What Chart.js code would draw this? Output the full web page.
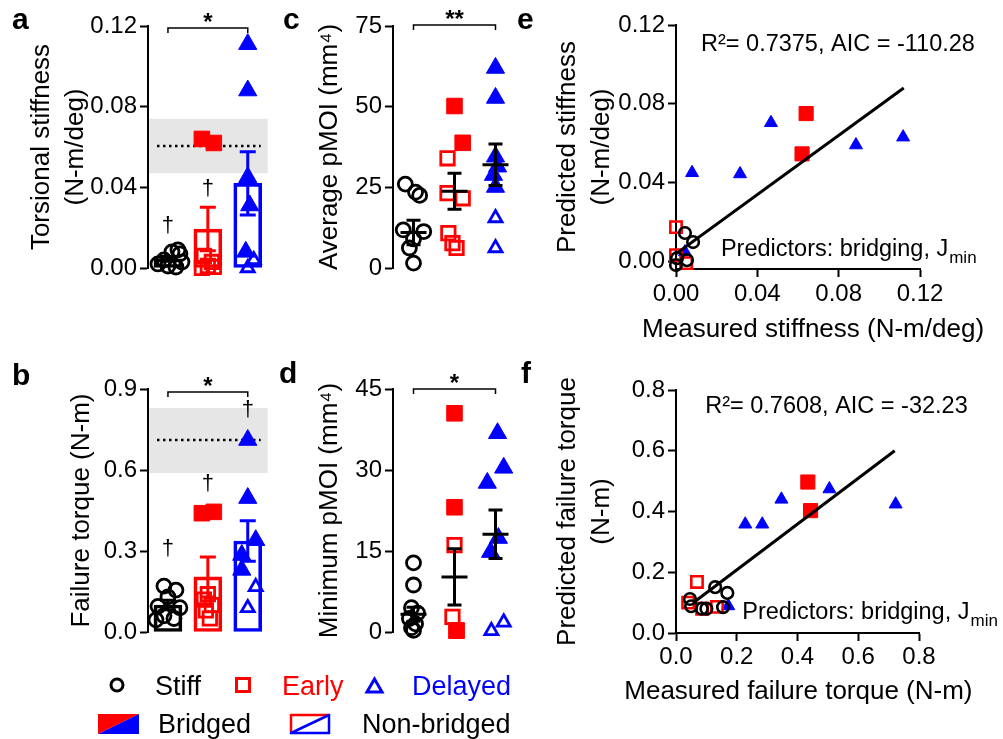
<!DOCTYPE html>
<html>
<head>
<meta charset="utf-8">
<script src="https://cdn.jsdelivr.net/npm/chart.js@4.4.1/dist/chart.umd.min.js"></script>
<style>
body { margin: 0; background: #fff; }
#fig { position: relative; width: 1003px; height: 739px; overflow: hidden; font-family: "Liberation Sans", Arial, sans-serif; }
#fig canvas { position: absolute; }
#overlay { position: absolute; left: 0; top: 0; pointer-events: none; }
</style>
</head>
<body>
<div id="fig">
  <canvas id="pa" width="280" height="290" style="left:0;top:0"></canvas>
  <canvas id="pc" width="250" height="290" style="left:280px;top:0"></canvas>
  <canvas id="pb" width="280" height="290" style="left:0;top:360px"></canvas>
  <canvas id="pd" width="250" height="290" style="left:280px;top:360px"></canvas>
  <canvas id="pe" width="473" height="345" style="left:530px;top:0"></canvas>
  <canvas id="pf" width="473" height="360" style="left:530px;top:360px"></canvas>
  <svg id="overlay" width="1003" height="739" font-family="Liberation Sans, Arial, sans-serif">
    <g font-size="30" font-weight="bold" fill="#000">
      <text x="12" y="29">a</text>
      <text x="283" y="29">c</text>
      <text x="517" y="29">e</text>
      <text x="12" y="385">b</text>
      <text x="279" y="383">d</text>
      <text x="521" y="383">f</text>
    </g>
    <!-- legend -->
    <circle cx="117" cy="685" r="6" fill="none" stroke="#000" stroke-width="3"/>
    <text x="155" y="695" font-size="27" fill="#000">Stiff</text>
    <rect x="236.5" y="678.5" width="13" height="13" fill="none" stroke="#ff0000" stroke-width="3"/>
    <text x="282" y="695" font-size="27" fill="#ff0000">Early</text>
    <polygon points="374.5,679 382,692 367,692" fill="none" stroke="#0000ff" stroke-width="3"/>
    <text x="412" y="695" font-size="27" fill="#0000ff">Delayed</text>
    <polygon points="98,714 139,714 98,734" fill="#ff0000"/>
    <polygon points="139,714 139,734 98,734" fill="#0000ff"/>
    <text x="158" y="733" font-size="27" fill="#000">Bridged</text>
    <line x1="291" y1="715" x2="330" y2="715" stroke="#ff0000" stroke-width="2.5"/>
    <line x1="291" y1="714" x2="291" y2="734" stroke="#ff0000" stroke-width="2.5"/>
    <line x1="329" y1="714" x2="329" y2="734" stroke="#0000ff" stroke-width="2.5"/>
    <line x1="290" y1="733" x2="330" y2="733" stroke="#0000ff" stroke-width="2.5"/>
    <line x1="291" y1="733" x2="329" y2="715" stroke="#0000ff" stroke-width="2.5"/>
    <text x="362" y="733" font-size="27" fill="#000">Non-bridged</text>
  </svg>
</div>
<script>
// Colours / fonts
const RED = '#ff0000';
const BLUE = '#0000ff';
const BLACK = '#000000';
const NONE = 'rgba(0,0,0,0)';
const FONT = '"Liberation Sans", Arial, Helvetica, sans-serif';
const GROUP_COLORS = [BLACK, RED, BLUE];

// Categories (x index 0,1,2)
const groups = ['Stiff', 'Early', 'Delayed'];

// ---- Panel a: torsional stiffness (N-m/deg)
const ticksA = [0, 0.04, 0.08, 0.12];
const stiffA = [0.002, 0.004, 0.008, 0.009, 0.007, 0.001, 0.0005, 0.003];
const stiffAdx = [-0.25, -0.1, 0.1, 0.25, 0.3, 0.0, 0.2, 0.35];
const earlyFillA = [0.064, 0.062];
const earlyFillAdx = [-0.15, 0.15];
const earlyOpenA = [0.006, 0.003, 0.001, 0.0, 0.0005];
const earlyOpenAdx = [-0.1, 0.1, 0, -0.15, 0.15];
const delFillA = [0.111, 0.088, 0.045, 0.031, 0.008];
const delFillAdx = [0, 0, 0, 0.05, -0.05];
const delOpenA = [0.004, 0.0];
const delOpenAdx = [0.15, 0];
const meanA = [0.0045, 0.0193, 0.042];
const semA = [0.0012, 0.0108, 0.0157];
const bandA = [0.047, 0.074];
const refA = 0.0605;
const daggersA = [[0, 0.0208], [1, 0.039]];
const bracketA = [0, 2, 0.119, '*'];

// ---- Panel b: failure torque (N-m)
const ticksB = [0, 0.3, 0.6, 0.9];
const stiffB = [0.17, 0.155, 0.13, 0.095, 0.09, 0.06, 0.05, 0.045];
const stiffBdx = [-0.1, 0.2, 0.0, -0.25, 0.3, -0.1, 0.15, -0.3];
const earlyFillB = [0.44, 0.445];
const earlyFillBdx = [-0.15, 0.15];
const earlyOpenB = [0.14, 0.12, 0.10, 0.08, 0.05];
const earlyOpenBdx = [0.0, -0.1, 0.1, -0.05, 0.05];
const delFillB = [0.711, 0.496, 0.34, 0.285, 0.23];
const delFillBdx = [0, 0, 0.2, -0.15, -0.15];
const delOpenB = [0.167, 0.089];
const delOpenBdx = [0.2, 0];
const meanB = [0.1, 0.204, 0.337];
const semB = [0.018, 0.074, 0.075];
const bandB = [0.589, 0.83];
const refB = 0.711;
const daggersB = [[0, 0.307], [1, 0.548], [2, 0.822]];
const bracketB = [0, 2, 0.889, '*'];

// ---- Panel c: average pMOI (mm^4)
const ticksC = [0, 25, 50, 75];
const stiffC = [26, 23.5, 22.5, 11.8, 11.3, 9, 6.2, 1.5];
const stiffCdx = [-0.2, 0.05, 0.15, -0.25, 0.25, 0, -0.1, 0];
const earlyFillC = [50.2, 38.8];
const earlyFillCdx = [0, 0.2];
const earlyOpenC = [34, 23.2, 21.6, 10.8, 7.7, 6.2];
const earlyOpenCdx = [-0.17, -0.17, 0.2, -0.15, -0.05, 0.05];
const delFillC = [62, 52.7, 34.5, 31.4, 28.8, 25.1];
const delFillCdx = [0, 0, 0, 0.05, -0.05, 0];
const delOpenC = [15.5, 6.2];
const delOpenCdx = [0, 0];
const meanC = [11, 23.8, 32];
const semC = [3.8, 5.6, 6.4];
const bracketC = [0, 2, 75.3, '**'];

// ---- Panel d: minimum pMOI (mm^4)
const ticksD = [0, 15, 30, 45];
const stiffD = [12.8, 8.7, 4.5, 3.5, 2.5, 1.5, 0.8, 0.3];
const stiffDdx = [0, 0, -0.05, 0.1, -0.1, 0.05, -0.05, 0];
const earlyFillD = [40.5, 23.1, 0.3];
const earlyFillDdx = [0, 0, 0.05];
const earlyOpenD = [16.1, 2.8, 0.2];
const earlyOpenDdx = [0, -0.05, 0.05];
const delFillD = [36.8, 30.4, 27.6, 17.4, 14.8];
const delFillDdx = [0.05, 0.2, -0.2, 0.07, -0.12];
const delOpenD = [0.2, 1.8];
const delOpenDdx = [-0.1, 0.2];
const meanD = [3.3, 10.2, 18.1];
const semD = [1.3, 5.2, 4.5];
const bracketD = [0, 2, 45, '*'];

// ---- Panel e: measured vs predicted stiffness [measured, predicted]
const ticksE = [0, 0.04, 0.08, 0.12];
const stiffE = [[0.0044, 0.0143], [0.0084, 0.0097], [0.0005, 0.0015], [0.0, -0.002], [0.0054, 0.0005]];
const earlyOpenE = [[0.0, 0.0173], [0.0, 0.003], [0.005, -0.001]];
const earlyFillE = [[0.064, 0.075], [0.062, 0.0545]];
const delFillE = [[0.0079, 0.0449], [0.0315, 0.0443], [0.0467, 0.0703], [0.0885, 0.059], [0.1117, 0.063], [0.0044, 0.0046]];
const fitE = [[0, 0.0037], [0.112, 0.088]];

// ---- Panel f: measured vs predicted failure torque
const ticksF = [0, 0.2, 0.4, 0.6, 0.8];
const stiffF = [[0.129, 0.151], [0.169, 0.132], [0.046, 0.112], [0.05, 0.088], [0.085, 0.08], [0.1, 0.08], [0.155, 0.085]];
const earlyOpenF = [[0.069, 0.168], [0.04, 0.1], [0.135, 0.086], [0.086, 0.08]];
const earlyFillF = [[0.434, 0.497], [0.443, 0.403]];
const delFillF = [[0.228, 0.358], [0.284, 0.358], [0.347, 0.44], [0.505, 0.474], [0.723, 0.424], [0.172, 0.089]];
const fitF = [[0.06, 0.102], [0.72, 0.6]];

// Marker styles
const dotStyles = {
    stiff: { pointStyle: 'circle', pointRadius: 7, pointBorderWidth: 2.8, pointBorderColor: BLACK, pointBackgroundColor: NONE },
    earlyFill: { pointStyle: 'rect', pointRadius: 11, pointBorderWidth: 1, pointBorderColor: RED, pointBackgroundColor: RED },
    earlyOpen: { pointStyle: 'rect', pointRadius: 9.5, pointBorderWidth: 2.8, pointBorderColor: RED, pointBackgroundColor: NONE },
    delFill: { pointStyle: 'triangle', pointRadius: 10.5, pointBorderWidth: 1, pointBorderColor: BLUE, pointBackgroundColor: BLUE },
    delOpen: { pointStyle: 'triangle', pointRadius: 7.5, pointBorderWidth: 2.8, pointBorderColor: BLUE, pointBackgroundColor: NONE }
};
const scatterStyles = {
    stiff: { pointStyle: 'circle', pointRadius: 5.8, pointBorderWidth: 2.6, pointBorderColor: BLACK, pointBackgroundColor: NONE },
    earlyFill: { pointStyle: 'rect', pointRadius: 10, pointBorderWidth: 1, pointBorderColor: RED, pointBackgroundColor: RED },
    earlyOpen: { pointStyle: 'rect', pointRadius: 8, pointBorderWidth: 2.6, pointBorderColor: RED, pointBackgroundColor: NONE },
    delFill: { pointStyle: 'triangle', pointRadius: 7.5, pointBorderWidth: 1, pointBorderColor: BLUE, pointBackgroundColor: BLUE }
};

// Helpers
function jittered(vals, dx, cat, style) {
    return Object.assign({
        data: vals.map((v, i) => ({ x: cat + dx[i], y: v })),
        clip: false,
        order: 1
    }, style);
}

function pairs(list, style) {
    return Object.assign({
        data: list.map(p => ({ x: p[0], y: p[1] })),
        clip: false,
        order: 1
    }, style);
}

function yAxis(ticks, dec, title, titlePad, width, min, max) {
    return {
        type: 'linear',
        min: min,
        max: max,
        afterBuildTicks: s => { s.ticks = ticks.map(v => ({ value: v })); },
        afterFit: s => { s.width = width; },
        ticks: { callback: v => Number(v).toFixed(dec), color: BLACK, font: { family: FONT, size: 24 }, padding: 3 },
        grid: { drawOnChartArea: false, tickLength: 8, tickWidth: 2, tickColor: BLACK },
        border: { color: BLACK, width: 2 },
        title: { display: true, text: title, color: BLACK, font: { family: FONT, size: 26, lineHeight: 1.3 }, padding: { top: titlePad, bottom: 0 } }
    };
}

function xAxis(ticks, dec, min, max, height, pad) {
    return {
        type: 'linear',
        min: min,
        max: max,
        afterBuildTicks: s => { s.ticks = ticks.map(v => ({ value: v })); },
        afterFit: s => { s.height = height; },
        ticks: { callback: v => Number(v).toFixed(dec), color: BLACK, font: { family: FONT, size: 24 }, padding: pad, maxRotation: 0 },
        grid: { drawOnChartArea: false, tickLength: 8, tickWidth: 2, tickColor: BLACK },
        border: { color: BLACK, width: 2 }
    };
}

// Decorations: reference band, error bars, brackets, daggers, notes
function decorPlugin(cfg) {
    return {
        id: 'decor',
        beforeDatasetsDraw(chart) {
            const { ctx, chartArea: area, scales: { y } } = chart;
            if (!cfg.band) return;
            ctx.save();
            const top = y.getPixelForValue(cfg.band[1]);
            const bottom = y.getPixelForValue(cfg.band[0]);
            ctx.fillStyle = '#e6e6e6';
            ctx.fillRect(area.left + 1, top, area.right - area.left - 1, bottom - top);
            const ry = y.getPixelForValue(cfg.ref);
            ctx.strokeStyle = BLACK;
            ctx.lineWidth = 2.5;
            ctx.setLineDash([2.5, 3.5]);
            ctx.beginPath();
            ctx.moveTo(area.left + 9, ry);
            ctx.lineTo(area.right - 7, ry);
            ctx.stroke();
            ctx.restore();
        },
        afterDatasetsDraw(chart) {
            const { ctx, scales: { x, y } } = chart;
            ctx.save();
            if (cfg.mean) {
                cfg.mean.forEach((m, i) => {
                    const px = x.getPixelForValue(i);
                    const hi = y.getPixelForValue(m + cfg.sem[i]);
                    const lo = y.getPixelForValue(Math.max(m - cfg.sem[i], 0));
                    const mid = y.getPixelForValue(m);
                    const cap = cfg.bars ? 8 : 7;
                    ctx.strokeStyle = cfg.bars ? GROUP_COLORS[i] : BLACK;
                    ctx.lineWidth = 3;
                    ctx.beginPath();
                    ctx.moveTo(px, hi); ctx.lineTo(px, lo);
                    ctx.moveTo(px - cap, hi); ctx.lineTo(px + cap, hi);
                    ctx.moveTo(px - cap, lo); ctx.lineTo(px + cap, lo);
                    if (!cfg.bars) { ctx.moveTo(px - 13, mid); ctx.lineTo(px + 13, mid); }
                    ctx.stroke();
                });
            }
            if (cfg.bracket) {
                const [c0, c1, v, label] = cfg.bracket;
                const x0 = x.getPixelForValue(c0), x1 = x.getPixelForValue(c1), by = y.getPixelForValue(v);
                ctx.strokeStyle = BLACK;
                ctx.lineWidth = 1.5;
                ctx.beginPath();
                ctx.moveTo(x0, by + 5); ctx.lineTo(x0, by); ctx.lineTo(x1, by); ctx.lineTo(x1, by + 5);
                ctx.stroke();
                ctx.fillStyle = BLACK;
                ctx.font = 'bold 24px ' + FONT;
                ctx.textAlign = 'center';
                ctx.textBaseline = 'alphabetic';
                ctx.fillText(label, (x0 + x1) / 2, by + 2);
            }
            if (cfg.daggers) {
                ctx.fillStyle = BLACK;
                ctx.font = '22px ' + FONT;
                ctx.textAlign = 'center';
                ctx.textBaseline = 'middle';
                cfg.daggers.forEach(d => ctx.fillText('\u2020', x.getPixelForValue(d[0]), y.getPixelForValue(d[1])));
            }
            (cfg.notes || []).forEach(n => {
                ctx.fillStyle = BLACK;
                ctx.font = n.size + 'px ' + FONT;
                ctx.textAlign = n.align || 'left';
                ctx.textBaseline = 'alphabetic';
                const px = x.getPixelForValue(n.x), py = y.getPixelForValue(n.y);
                ctx.fillText(n.text, px, py);
                if (n.sub) {
                    const w = ctx.measureText(n.text).width;
                    ctx.font = '17px ' + FONT;
                    ctx.fillText(n.sub, px + w + 1, py + 7);
                }
            });
            ctx.restore();
        }
    };
}

const baseOptions = {
    responsive: false,
    animation: false,
    events: [],
    plugins: { legend: { display: false }, tooltip: { enabled: false } }
};

// Dot plots a-d
function dotPanel(id, groupsData, cfg) {
    const datasets = [
        jittered(groupsData[0][0], groupsData[0][1], 0, dotStyles.stiff),
        jittered(groupsData[1][0], groupsData[1][1], 1, dotStyles.earlyOpen),
        jittered(groupsData[2][0], groupsData[2][1], 1, dotStyles.earlyFill),
        jittered(groupsData[3][0], groupsData[3][1], 2, dotStyles.delOpen),
        jittered(groupsData[4][0], groupsData[4][1], 2, dotStyles.delFill)
    ];
    if (cfg.bars) {
        datasets.push({
            type: 'bar',
            data: cfg.mean.map((m, i) => ({ x: i, y: m })),
            backgroundColor: NONE,
            borderColor: GROUP_COLORS,
            borderWidth: 3,
            borderSkipped: false,
            barThickness: 28,
            order: 10
        });
    }
    new Chart(document.getElementById(id), {
        type: 'scatter',
        data: { datasets },
        options: Object.assign({}, baseOptions, {
            layout: { padding: cfg.padding },
            scales: {
                x: { type: 'linear', display: false, min: -0.5, max: 2.5, offset: false },
                y: cfg.y
            }
        }),
        plugins: [decorPlugin(cfg)]
    });
}

dotPanel('pa',
    [[stiffA, stiffAdx], [earlyOpenA, earlyOpenAdx], [earlyFillA, earlyFillAdx], [delOpenA, delOpenAdx], [delFillA, delFillAdx]],
    {
        bars: true, mean: meanA, sem: semA, band: bandA, ref: refA, daggers: daggersA, bracket: bracketA,
        padding: { left: 0, right: 10, top: 26, bottom: 22 },
        y: yAxis(ticksA, 2, ['Torsional stiffness', '(N-m/deg)'], 25, 148, 0, 0.12)
    });

dotPanel('pb',
    [[stiffB, stiffBdx], [earlyOpenB, earlyOpenBdx], [earlyFillB, earlyFillBdx], [delOpenB, delOpenBdx], [delFillB, delFillBdx]],
    {
        bars: true, mean: meanB, sem: semB, band: bandB, ref: refB, daggers: daggersB, bracket: bracketB,
        padding: { left: 0, right: 10, top: 29, bottom: 18 },
        y: yAxis(ticksB, 1, 'Failure torque (N-m)', 65, 148, 0, 0.9)
    });

dotPanel('pc',
    [[stiffC, stiffCdx], [earlyOpenC, earlyOpenCdx], [earlyFillC, earlyFillCdx], [delOpenC, delOpenCdx], [delFillC, delFillCdx]],
    {
        bars: false, mean: meanC, sem: semC, bracket: bracketC,
        padding: { left: 0, right: 14, top: 26, bottom: 22 },
        y: yAxis(ticksC, 0, 'Average pMOI (mm\u2074)', 33, 113, 0, 75)
    });

dotPanel('pd',
    [[stiffD, stiffDdx], [earlyOpenD, earlyOpenDdx], [earlyFillD, earlyFillDdx], [delOpenD, delOpenDdx], [delFillD, delFillDdx]],
    {
        bars: false, mean: meanD, sem: semD, bracket: bracketD,
        padding: { left: 0, right: 14, top: 29, bottom: 18 },
        y: yAxis(ticksD, 0, 'Minimum pMOI (mm\u2074)', 33, 113, 0, 45)
    });

// Scatter panels e-f
function scatterPanel(id, sets, fit, cfg) {
    const datasets = [
        pairs(sets[0], scatterStyles.stiff),
        pairs(sets[1], scatterStyles.earlyOpen),
        pairs(sets[2], scatterStyles.earlyFill),
        pairs(sets[3], scatterStyles.delFill),
        {
            data: fit.map(p => ({ x: p[0], y: p[1] })),
            showLine: true,
            borderColor: BLACK,
            borderWidth: 3,
            pointRadius: 0,
            order: 0
        }
    ];
    new Chart(document.getElementById(id), {
        type: 'scatter',
        data: { datasets },
        options: Object.assign({}, baseOptions, {
            layout: { padding: cfg.padding },
            scales: { x: cfg.x, y: cfg.y }
        }),
        plugins: [decorPlugin(cfg)]
    });
}

scatterPanel('pe', [stiffE, earlyOpenE, earlyFillE, delFillE], fitE, {
    padding: { left: 0, right: 83, top: 25, bottom: 0 },
    x: xAxis(ticksE, 2, 0, 0.12, 76, 3),
    y: yAxis(ticksE, 2, ['Predicted stiffness', '(N-m/deg)'], 21, 146, -0.004, 0.12),
    notes: [
        { text: 'R\u00b2= 0.7375, AIC = -110.28', x: 0.0123, y: 0.107, size: 23.5 },
        { text: 'Predictors: bridging, J', sub: 'min', x: 0.0221, y: 0.0025, size: 23.5 },
        { text: 'Measured stiffness (N-m/deg)', x: 0.0674, y: -0.0386, size: 26, align: 'center' }
    ]
});

scatterPanel('pf', [stiffF, earlyOpenF, earlyFillF, delFillF], fitF, {
    padding: { left: 0, right: 84, top: 30, bottom: 0 },
    x: xAxis(ticksF, 1, 0, 0.8, 87, 2),
    y: yAxis(ticksF, 1, ['Predicted failure torque', '(N-m)'], 21, 146, 0, 0.8),
    notes: [
        { text: 'R\u00b2= 0.7608, AIC = -32.23', x: 0.096, y: 0.724, size: 23.5 },
        { text: 'Predictors: bridging, J', sub: 'min', x: 0.218, y: 0.046, size: 23.5 },
        { text: 'Measured failure torque (N-m)', x: 0.403, y: -0.218, size: 26, align: 'center' }
    ]
});
</script>
</body>
</html>
